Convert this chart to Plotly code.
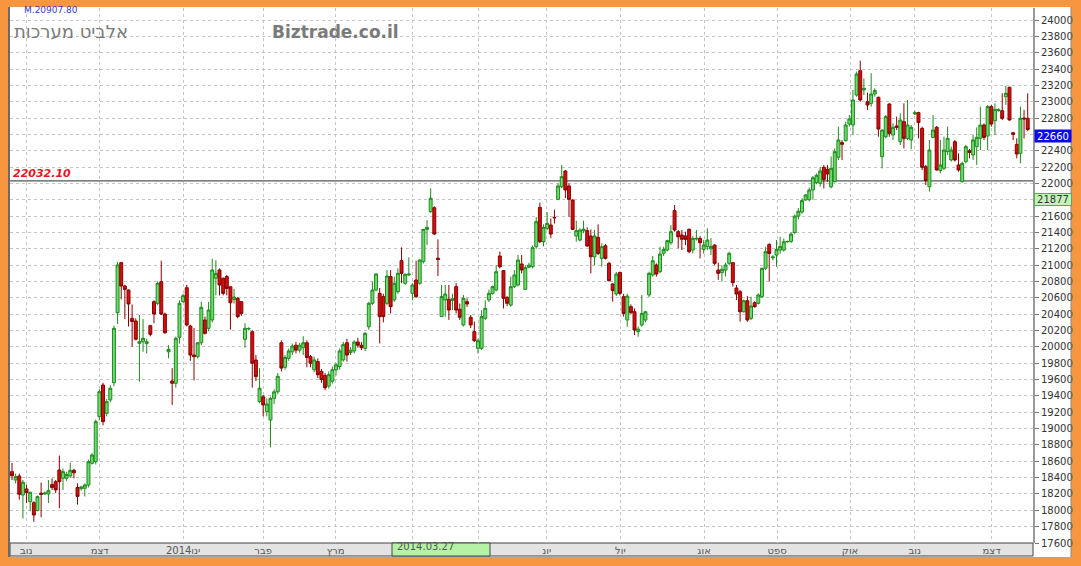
import plotly.graph_objects as go

# ---------------- data ----------------
opens = [
    18473, 18371, 18420, 18187, 18261, 18105, 18093, 17996, 18210, 18200,
    18200, 18315, 18350, 18493, 18392, 18392, 18420, 18490, 18280, 18265,
    18270, 18310, 18576, 18595, 19146, 19533, 19187, 19350, 19562, 20419,
    21030, 20745, 20696, 20350, 20317, 20043, 20063, 20040, 20260, 20553,
    20533, 20798, 20402, 19940, 19583, 19555, 20117, 20553, 20724, 20255,
    19900, 19880, 20050, 20329, 20227, 20329, 20840, 20941, 20839, 20860,
    20735, 20580, 20594, 20553, 20093, 20220, 20185, 19839, 19330, 19390,
    19207, 19105,
    19370, 19450, 20050, 19750, 19860, 19940, 20020, 19960, 19990, 20050,
    19880, 19720, 19820, 19700, 19650, 19520, 19580, 19720, 19760, 19840,
    20050, 19930, 19950, 20060, 20020,
    19982, 20247, 20533, 20696, 20655, 20615, 20533, 20860, 20574, 20676,
    21055, 20778, 20880, 20655, 20818, 20778, 21043, 21438, 21655, 21703,
    21085, 20370, 20574, 20582, 20570, 20737, 20460, 20268, 20553, 20362,
    20186, 19982, 19982, 20350, 20574, 20655, 20696, 21112, 20933, 20606,
    20512, 20737, 20757, 21014, 20704, 20975,
    20981, 21226, 21707, 21287, 21450, 21491, 21585, 21805, 21960, 22152,
    21969, 21797, 21357, 21307, 21420, 21422, 21357, 21103, 21340, 21083,
    21238, 21022, 20769, 20647, 20912, 20614, 20329, 20492, 20430, 20186,
    20267, 20329, 20635, 20880, 21002, 20920, 21145, 21185, 21275, 21667,
    21410, 21369, 21357, 21438, 21185, 21320, 21328, 21193, 21226, 21200,
    21246, 20940, 20908, 20940, 21022, 21030, 20720, 20675, 20430, 20565,
    20349, 20541, 20533, 20614, 20961, 21254, 21090, 21124, 21185, 21185,
    21287,
    21290, 21400, 21600, 21650, 21797, 21800, 21920, 22010, 22001, 22197,
    22173, 21960, 22022, 22320, 22499, 22524, 22727, 22715, 23082, 23380,
    23144, 23000, 22980, 23095, 23054, 22328, 22572, 22972, 22593, 22703,
    22511, 22756, 22552, 22532, 22850, 22866, 22674, 22205, 21960, 22564,
    22687, 22157, 22185, 22389, 22287, 22511, 22226, 22022, 22267, 22400,
    22348, 22450, 22552, 22715, 22580, 22940, 22768, 22890, 22890, 23062,
    23176, 22620, 22478, 22369, 22800, 22797,
]

highs = [
    18580, 18450, 18450, 18371, 18310, 18230, 18110, 18180, 18340, 18230,
    18370, 18390, 18370, 18670, 18510, 18470, 18580, 18510, 18330, 18300,
    18330, 18620, 18700, 19110, 19480, 19560, 19360, 19530, 20260, 21040,
    21040, 20760, 20700, 20520, 20350, 20390, 20340, 20100, 20270, 20570,
    20800, 21055, 20420, 20020, 19740, 20125, 20570, 20650, 20760, 20270,
    20230, 20060, 20550, 20370, 20550, 21080, 21060, 20960, 20850, 20880,
    20740, 20710, 20610, 20560, 20290, 20240, 20200, 19900, 19740, 19410,
    19370, 19390,
    19480, 19680, 20080, 19900, 19980, 20040, 20060, 20050, 20130, 20080,
    19900, 19880, 19860, 19730, 19680, 19700, 19760, 19800, 19980, 20060,
    20100, 20000, 20080, 20110, 20060,
    20180, 20550, 20800, 20900, 20720, 20650, 20940, 20940, 20860, 20960,
    21218, 20900, 21095, 20780, 21055, 21070, 21440, 21552, 21940, 21720,
    21316, 20757, 20757, 20757, 20650, 20780, 20530, 20635, 20595, 20390,
    20310, 20100, 20450, 20570, 20700, 20750, 21000, 21165, 20940, 20620,
    20860, 20940, 21125, 21125, 21000, 21030,
    21240, 21590, 21765, 21500, 21650, 21570, 21680, 22000, 22225, 22165,
    22000, 21805, 21545, 21450, 21545, 21463, 21438, 21430, 21500, 21267,
    21260, 21040, 20780, 20916, 20920, 20650, 20650, 20520, 20470, 20250,
    20635, 20440, 20920, 21112, 21022, 21226, 21226, 21310, 21490, 21736,
    21430, 21430, 21410, 21450, 21357, 21430, 21357, 21310, 21450, 21330,
    21254, 21030, 20999, 21030, 21165, 21040, 20757, 20696, 20580, 20622,
    20614, 20560, 20655, 20970, 21226, 21267, 21124, 21308, 21348, 21328,
    21300,
    21400, 21620, 21700, 21820, 21870, 21950, 22090, 22120, 22200, 22225,
    22225, 22330, 22430, 22695, 22530, 22756, 22838, 23143, 23368, 23502,
    23286, 23110, 23348, 23164, 23062, 22660, 22838, 22980, 22736, 22817,
    22858, 22980, 23021, 22715, 22890, 22878, 22695, 22226, 22532, 22838,
    22703, 22532, 22572, 22695, 22450, 22531, 22368, 22267, 22470, 22420,
    22593, 22687, 22940, 22736, 22960, 22960, 22980, 22920, 23103, 23193,
    23184, 22630, 22552, 22940, 22900, 23103,
]

lows = [
    18370, 18330, 18130, 17900, 18090, 17990, 17860, 17990, 17915, 18190,
    18090, 18250, 18210, 18025, 18250, 18360, 18400, 18390, 18070, 18240,
    18170, 18280, 18560, 18560, 19100, 19040, 19150, 19320, 19520, 20280,
    20580, 20340, 20250, 20000, 20080, 19574, 19940, 19920, 20130, 20290,
    20510, 20390, 20160, 19860, 19290, 19500, 20040, 20540, 20250, 19830,
    19590, 19860, 20020, 20150, 20190, 20300, 20630, 20630, 20630, 20630,
    20210, 20530, 20350, 20380, 19990, 20200, 19500, 19580, 19310, 19150,
    19150, 18770,
    19300, 19420, 19700, 19720, 19830, 19900, 19920, 19930, 19900, 19750,
    19750, 19690, 19620, 19560, 19470, 19490, 19550, 19650, 19720, 19820,
    19820, 19900, 19920, 19990, 19960,
    19950, 20210, 20510, 20680, 20043, 20300, 20510, 20410, 20550, 20650,
    20780, 20760, 20870, 20570, 20600, 20760, 21020, 21247, 21640, 21370,
    20867, 20370, 20370, 20330, 20450, 20410, 20330, 20250, 20490, 20230,
    20060, 19920, 19960, 20330, 20550, 20640, 20680, 20960, 20470, 20500,
    20490, 20720, 20740, 20900, 20700, 20960,
    20960, 21200, 21270, 21230, 21430, 21330, 21510, 21795, 21940, 21820,
    21593, 21430, 21287, 21290, 21390, 21226, 20900, 21000, 21124, 20981,
    21070, 20800, 20553, 20622, 20630, 20370, 20247, 20400, 20145, 20124,
    20247, 20300, 20610, 20860, 20860, 20900, 21112, 21170, 21250, 21410,
    21206, 21185, 21246, 21145, 21145, 21300, 21083, 21140, 21185, 21124,
    21000, 20820, 20800, 20860, 21000, 20737, 20573, 20308, 20420, 20308,
    20328, 20480, 20520, 20600, 20940, 20800, 21060, 20980, 21140, 21165,
    21270,
    21270, 21380, 21560, 21630, 21790, 21780, 21800, 21990, 21960, 21940,
    22020, 21940, 22010, 22287, 22287, 22511, 22695, 22593, 23062, 23000,
    23083, 22899, 22940, 23062, 22572, 22185, 22552, 22572, 22532, 22654,
    22470, 22430, 22532, 22418, 22838, 22552, 22164, 21980, 21900, 22552,
    22157, 22124, 22165, 22348, 22267, 22267, 22144, 22010, 22246, 22307,
    22287, 22226, 22409, 22532, 22409, 22695, 22593, 22880, 22776, 22960,
    22770, 22530, 22307, 22246, 22550, 22640,
]

closes = [
    18424, 18412, 18196, 18343, 18216, 18220, 17943, 18167, 18195, 18210,
    18240, 18280, 18250, 18350, 18473, 18440, 18490, 18460, 18170, 18285,
    18310, 18595, 18677, 19085, 19452, 19085, 19330, 19494, 20227, 21002,
    20745, 20704, 20525, 20310, 20093, 20063, 20105, 20063, 20154, 20402,
    20778, 20402, 20173, 19970, 19555, 20105, 20533, 20627, 20268, 19900,
    19880, 20050, 20484, 20166, 20451, 20941, 20900, 20757, 20655, 20715,
    20540, 20610, 20370, 20410, 20227, 20225, 19800, 19636, 19494, 19290,
    19301, 19370,
    19450, 19640, 19740, 19870, 19950, 20010, 19960, 20020, 20050, 19870,
    19800, 19840, 19660, 19600, 19500, 19660, 19720, 19780, 19950, 20030,
    19900, 19960, 20060, 20020, 19990,
    20166, 20533, 20696, 20892, 20370, 20370, 20867, 20492, 20778, 20900,
    20900, 20888, 20890, 20757, 20614, 21063, 21438, 21463, 21818, 21381,
    21070, 20615, 20647, 20451, 20590, 20451, 20362, 20594, 20525, 20268,
    20076, 20076, 20370, 20472, 20655, 20737, 20920, 20981, 20594, 20533,
    20737, 20880, 21063, 20941, 20970, 21000,
    21214, 21532, 21287, 21463, 21512, 21381, 21580, 21969, 22083, 21920,
    21805, 21438, 21422, 21430, 21440, 21234, 21103, 21357, 21144, 21226,
    21083, 20810, 20688, 20891, 20655, 20410, 20622, 20418, 20206, 20218,
    20410, 20430, 20900, 21055, 20891, 21136, 21193, 21300, 21410, 21430,
    21348, 21316, 21316, 21165, 21328, 21328, 21275, 21246, 21307, 21230,
    21022, 20900, 20949, 21002, 21144, 20786, 20647, 20430, 20565, 20329,
    20500, 20492, 20635, 20961, 21165, 21144, 21100, 21193, 21230, 21287,
    21290,
    21380, 21600, 21660, 21790, 21859, 21920, 22070, 22100, 22152, 22050,
    22116, 22185, 22389, 22532, 22479, 22715, 22789, 23021, 23339, 23021,
    23164, 22960, 23095, 23136, 22666, 22654, 22817, 22613, 22687, 22687,
    22776, 22552, 22715, 22687, 22866, 22744, 22197, 22034, 22409, 22654,
    22165, 22226, 22409, 22552, 22409, 22287, 22165, 22246, 22450, 22380,
    22532, 22564, 22715, 22564, 22940, 22727, 22907, 22900, 22797, 23103,
    22776, 22600, 22360, 22797, 22790, 22660,
]

# month boundaries (trading-day index) and their labels
month_ticks = [3.9, 24.1, 47.0, 69.0, 88.9, 110.1, 128.2, 146.9, 167.1, 190.1, 210.2, 230.2, 248.0, 269.1]
month_labels = ["נוב", "דצמ", "2014ינו", "פבר", "מרץ", "", "", "יונ", "יול", "אוג", "ספט", "אוק", "נוב", "דצמ"]

y_ticks = list(range(17600, 24001, 200))
hidden_y_labels = [22600, 21800]  # covered by the price boxes
ref_level = 22032.10
last_price = 22660
aux_price = 21877
title_he = "אלביט מערכות"
site = "Biztrade.co.il"
ma_text = "M.20907.80"
cursor_date = "2014.03.27"

# ---------------- figure ----------------
n = len(closes)
idx = list(range(n))
highs = [max(h, o, c) for h, o, c in zip(highs, opens, closes)]
lows = [min(l, o, c) for l, o, c in zip(lows, opens, closes)]

W, H = 1081, 566
PL, PR, PT, PB = 10, 1033, 8, 543


def px(x):
    return (x - PL) / (PR - PL)


def py(y):
    return (PB - y) / (PB - PT)


fig = go.Figure()
fig.add_trace(go.Candlestick(
    x=idx, open=opens, high=highs, low=lows, close=closes,
    increasing=dict(line=dict(color="#1f8a1f", width=1), fillcolor="#6bdc6b"),
    decreasing=dict(line=dict(color="#8a0000", width=1), fillcolor="#d01010"),
    whiskerwidth=0, showlegend=False, hoverinfo="skip",
))

orange = "#F7963E"
shapes = [
    dict(type="rect", xref="paper", yref="paper", x0=px(8), x1=px(1071), y0=py(557), y1=py(7),
         fillcolor="white", line=dict(width=0), layer="below"),
    dict(type="rect", xref="paper", yref="paper", x0=px(10), x1=px(1033), y0=py(556), y1=py(543),
         fillcolor="#e3e3e3", line=dict(color="#444", width=1), layer="below"),
    dict(type="rect", xref="paper", yref="paper", x0=px(392), x1=px(490), y0=py(556), y1=py(543),
         fillcolor="#b6f2a6", line=dict(color="#444", width=1), layer="below"),
    dict(type="line", xref="paper", yref="paper", x0=px(9), x1=px(9), y0=py(557), y1=py(7),
         line=dict(color="#6a6a6a", width=2)),
    dict(type="line", xref="paper", yref="paper", x0=px(1071), x1=px(1071), y0=py(557), y1=py(7),
         line=dict(color="#888", width=1)),
    dict(type="line", xref="paper", yref="y", x0=0, x1=1, y0=ref_level, y1=ref_level,
         line=dict(color="#555", width=1.2), layer="below"),
]

annotations = [
    dict(text=title_he, xref="paper", yref="paper", x=px(12), y=py(32), xanchor="left", yanchor="middle",
         showarrow=False, font=dict(family="DejaVu Sans", size=18, color="#7a7a7a")),
    dict(text="<b>" + site + "</b>", xref="paper", yref="paper", x=px(270), y=py(32), xanchor="left",
         yanchor="middle", showarrow=False, font=dict(family="DejaVu Sans", size=17, color="#7a7a7a")),
    dict(text=ma_text, xref="paper", yref="paper", x=px(22), y=py(10), xanchor="left", yanchor="middle",
         showarrow=False, font=dict(family="DejaVu Sans", size=9, color="#3a3ad0")),
    dict(text="<b><i>%.2f</i></b>" % ref_level, xref="paper", yref="y", x=px(11), y=ref_level,
         xanchor="left", yanchor="bottom", showarrow=False, yshift=-1,
         font=dict(family="DejaVu Sans", size=11, color="#e8141e")),
    dict(text=str(last_price), xref="paper", yref="paper", x=px(1034), y=py(135.5), xanchor="left",
         yanchor="middle", showarrow=False, bgcolor="#0a0ae6", width=36, height=12,
         borderpad=0, font=dict(family="DejaVu Sans", size=10, color="white")),
    dict(text=str(aux_price), xref="paper", yref="paper", x=px(1034), y=py(199.5), xanchor="left",
         yanchor="middle", showarrow=False, bgcolor="#c4f3b8", width=36, height=11,
         borderpad=0, bordercolor="#5aa85a", borderwidth=1,
         font=dict(family="DejaVu Sans", size=10, color="#333")),
    dict(text=cursor_date, xref="paper", yref="paper", x=px(395), y=py(546), xanchor="left",
         yanchor="middle", showarrow=False, font=dict(family="DejaVu Sans", size=10, color="#555")),
]

fig.update_layout(
    width=W, height=H,
    margin=dict(l=PL, r=W - PR, t=PT, b=H - PB, pad=0),
    paper_bgcolor=orange, plot_bgcolor="white",
    font=dict(family="DejaVu Sans", size=10, color="#333"),
    shapes=shapes, annotations=annotations,
    boxgap=0.1, boxgroupgap=0.1,
    xaxis=dict(
        range=[-0.55, (PR - 12) / ((1027.7 - 12) / (n - 1))],
        tickmode="array", tickvals=month_ticks, ticktext=month_labels,
        showgrid=True, gridcolor="#c4c4c4", griddash="dot", gridwidth=1,
        ticks="", showline=False, zeroline=False,
        rangeslider=dict(visible=False),
        tickfont=dict(family="DejaVu Sans", size=10, color="#555"),
        fixedrange=True,
    ),
    yaxis=dict(
        range=[17600, 24000 + (20 - PT) * 6400 / 523],
        side="right", tickmode="array", tickvals=y_ticks,
        ticktext=["" if v in hidden_y_labels else str(v) for v in y_ticks],
        showgrid=True, gridcolor="#c4c4c4", griddash="dot", gridwidth=1,
        ticks="outside", ticklen=4, tickcolor="#777",
        showline=True, linecolor="#999", linewidth=2, mirror=False,
        zeroline=False,
        tickfont=dict(family="DejaVu Sans", size=10, color="#333"),
        fixedrange=True,
    ),
)

fig.write_html(
    "out.html",
    config={"displayModeBar": False, "staticPlot": True},
    post_script="document.body.style.margin='0';document.body.style.overflow='hidden';",
)
